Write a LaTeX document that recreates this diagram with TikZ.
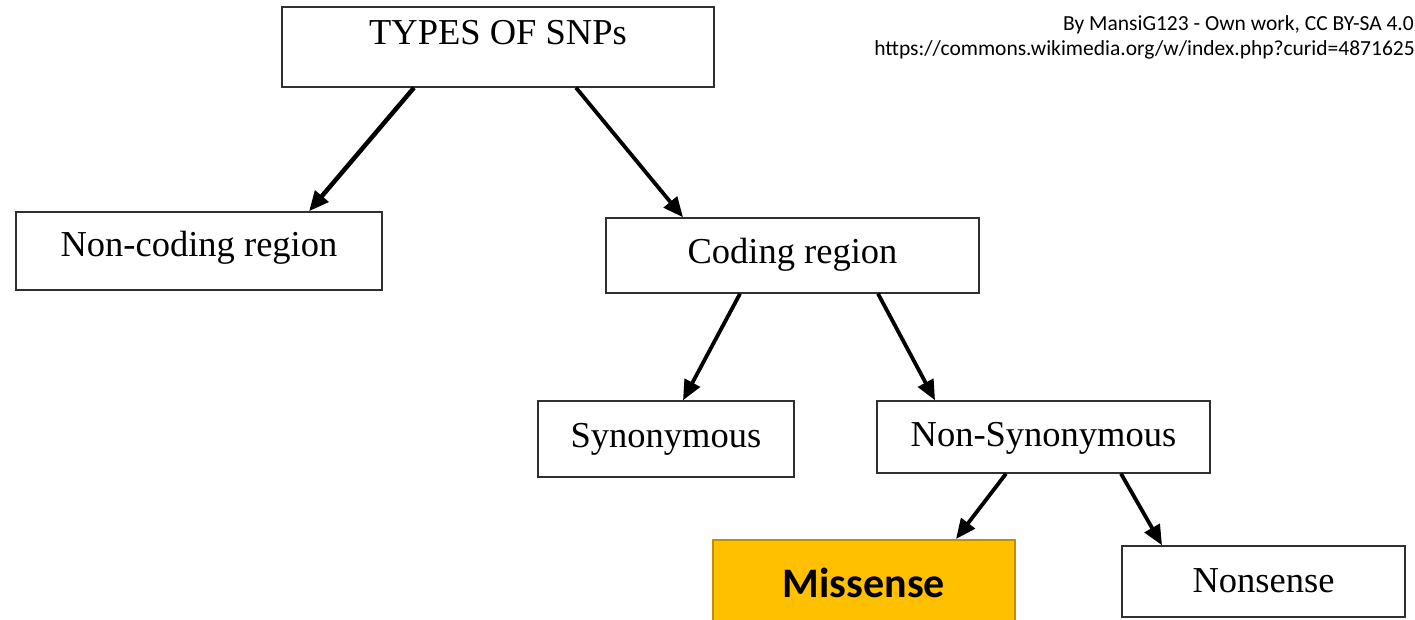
\documentclass[tikz,border=0pt]{standalone}
\usepackage{fontspec}
\setmainfont{Liberation Serif}
\newfontfamily\calib{Carlito}
\usetikzlibrary{arrows.meta}
\definecolor{boxline}{HTML}{303030}
\definecolor{missfill}{HTML}{FFC000}
\definecolor{missline}{HTML}{BF9000}
\tikzset{
  box/.style={draw=boxline, line width=1.4pt, fill=white, inner sep=0pt,
    font=\fontsize{36.5}{40}\selectfont, text height=24pt},
  hilite/.style={draw=missline, line width=2pt, fill=missfill, inner sep=0pt,
    font=\calib\bfseries\fontsize{42}{46}\selectfont, text height=27pt},
  arr/.style={line width=3.8pt, black, -{Triangle[length=20pt,width=17pt]}},
  credit/.style={font=\calib\fontsize{21.5}{26}\selectfont, inner sep=0pt, anchor=base east}
}
\begin{document}
\begin{tikzpicture}[x=1pt,y=-1pt]
\useasboundingbox (0,0) rectangle (1415,620);
\clip (0,0) rectangle (1415,620);
\fill[white] (0,0) rectangle (1415,620);
\node[box, minimum width=432pt, minimum height=80pt, text depth=28pt] (top) at (498,47) {TYPES OF SNPs};
\node[box, minimum width=366pt, minimum height=78pt, text depth=12pt] (nc) at (199,251) {Non-coding region};
\node[box, minimum width=373pt, minimum height=75pt, text depth=9pt] (cod) at (792.5,255.5) {Coding region};
\node[box, minimum width=256pt, minimum height=76pt, text depth=8pt] (syn) at (666,439) {Synonymous};
\node[box, minimum width=333pt, minimum height=72pt, text depth=6pt] (nsyn) at (1043.5,437) {Non-Synonymous};
\node[hilite, minimum width=302pt, minimum height=100pt, text depth=13pt] (mis) at (864,590) {Missense};
\node[box, minimum width=283pt, minimum height=71pt, text depth=3pt] (non) at (1263.5,581.5) {Nonsense};
\node[credit] (cr1) at (1414,31) {By MansiG123 - Own work, CC BY-SA 4.0};
\node[credit] (cr2) at (1415,56) {https://commons.wikimedia.org/w/index.php?curid=4871625};
\draw[arr, line width=4.5pt] ([xshift=-84pt]top.south) -- ([xshift=110pt]nc.north);
\draw[arr] ([xshift=78pt]top.south) -- ([xshift=-109.5pt]cod.north);
\draw[arr] ([xshift=-52.5pt]cod.south) -- ([xshift=17pt]syn.north);
\draw[arr] ([xshift=85.5pt]cod.south) -- ([xshift=-108.5pt]nsyn.north);
\draw[arr] ([xshift=-37.5pt]nsyn.south) -- ([xshift=92pt]mis.north);
\draw[arr] ([xshift=77.5pt]nsyn.south) -- ([xshift=-101.5pt]non.north);
\end{tikzpicture}
\end{document}
